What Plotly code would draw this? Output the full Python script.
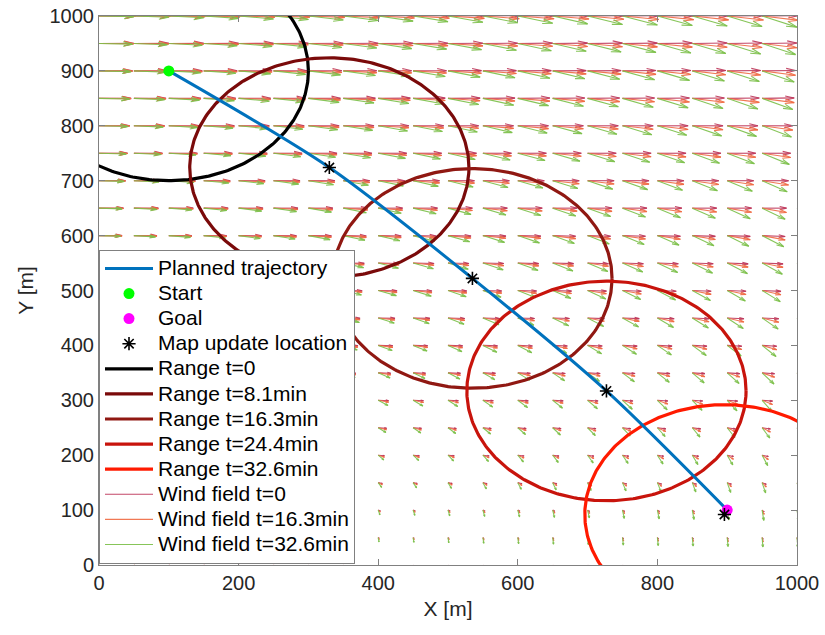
import numpy as np
import plotly.graph_objects as go

# ---------------- data ----------------
grid_x = [0, 50, 100, 150, 200, 250, 300, 350, 400, 450, 500,
          550, 600, 650, 700, 750, 800, 850, 900, 950, 1000]
grid_y = [0, 50, 100, 150, 200, 250, 300, 350, 400, 450, 500,
          550, 600, 650, 700, 750, 800, 850, 900, 950, 1000]

# displayed (scaled) wind components per row (index follows grid_y)
wind_u_t0 = [0.5, 1.5, 3, 6, 9, 12, 15, 18, 21, 24, 27,
             30, 33, 35, 38, 41, 44, 46, 48, 50, 52]
wind_u_t16 = [0.5, 1.5, 3, 6, 9, 12, 15, 18, 21, 24, 27,
              30, 33, 35, 38, 41, 44, 46, 48, 50, 52]
wind_u_t32 = [0.4, 1.2, 2.5, 5, 8, 11, 14, 17, 20, 23, 26,
              29, 31, 33, 36, 39, 42, 44, 46, 48, 50]
wind_v_t0 = [-2, -2, -2, -2, -1.5, -1.5, -1, -1, -1, -1, -1,
             -1, -1, 0, 0, 0, 0, 0.5, 0.5, 0.5, 0.5]
wind_v_t16 = [-5, -5, -5, -5, -5, -5, -5, -5, -5, -5, -5,
              -5, -5, -5, -5, -5, -5, -5, -5, -5, -5]
wind_v_t32 = [-11, -11, -12, -12, -12, -12, -13, -13, -13, -13, -13,
              -13, -13, -13, -13, -13, -13, -13, -13, -13, -13]
# how strongly the cross-wind shows up per column (index follows grid_x)
wind_v_col_gain = [0.10, 0.18, 0.25, 0.33, 0.41, 0.48, 0.56, 0.64, 0.72, 0.79, 0.87,
                   0.95, 1.02, 1.10, 1.18, 1.25, 1.33, 1.41, 1.48, 1.56, 1.64]

wind_names = ["Wind field t=0", "Wind field t=16.3min", "Wind field t=32.6min"]
wind_colors = ["rgba(190,55,90,0.92)", "rgba(240,105,65,0.90)", "rgba(125,192,75,0.92)"]

traj_x = [100, 330, 535, 727, 900]
traj_y = [900, 724, 522, 317, 100]

start_xy = (100, 900)
goal_xy = (900, 100)

update_x = [330, 535, 727, 896]
update_y = [724, 522, 317, 92]

range_cx = [100, 330, 535, 727, 896]
range_cy = [900, 724, 522, 317, 92]
range_r = [200, 200, 200, 200, 200]
range_names = ["Range t=0", "Range t=8.1min", "Range t=16.3min",
               "Range t=24.4min", "Range t=32.6min"]
range_colors = ["#000000", "#7a0a0a", "#901812", "#c8140c", "#ff1a00"]

x_ticks = [0, 200, 400, 600, 800, 1000]
y_ticks = [0, 100, 200, 300, 400, 500, 600, 700, 800, 900, 1000]

FONT = "Liberation Sans, Arial, Helvetica, sans-serif"


def legend_label(s):
    return '<span style="font-size:21px">' + s + '</span>'


fig = go.Figure()

# ---------------- wind field (quiver) ----------------
def quiver_xy(U, V):
    xs, ys = [], []
    a, b = 0.28, 0.30
    for i, y0 in enumerate(grid_y):
        for j, x0 in enumerate(grid_x):
            u = U[i]
            v = V[i] * wind_v_col_gain[j]
            tx, ty = x0 + u, y0 + v
            xs += [x0, tx, None]
            ys += [y0, ty, None]
            h1x = tx - a * (u + b * v)
            h1y = ty - a * (v - b * u)
            h2x = tx - a * (u - b * v)
            h2y = ty - a * (v + b * u)
            xs += [h1x, tx, h2x, None]
            ys += [h1y, ty, h2y, None]
    return xs, ys

wind_sets = [(wind_u_t0, wind_v_t0), (wind_u_t16, wind_v_t16), (wind_u_t32, wind_v_t32)]
for k, (U, V) in enumerate(wind_sets):
    qx, qy = quiver_xy(U, V)
    fig.add_trace(go.Scatter(x=qx, y=qy, mode="lines", name=legend_label(wind_names[k]),
                             line=dict(color=wind_colors[k], width=1.1),
                             legendrank=900 + k, hoverinfo="skip"))

# ---------------- range circles ----------------
theta = np.linspace(0, 2 * np.pi, 361)
for k in range(len(range_cx)):
    cx = range_cx[k] + range_r[k] * np.cos(theta)
    cy = range_cy[k] + range_r[k] * np.sin(theta)
    fig.add_trace(go.Scatter(x=cx, y=cy, mode="lines", name=legend_label(range_names[k]),
                             line=dict(color=range_colors[k], width=3.2),
                             legendrank=500 + k))

# ---------------- trajectory and markers ----------------
fig.add_trace(go.Scatter(x=traj_x, y=traj_y, mode="lines", name=legend_label("Planned trajectory"),
                         line=dict(color="#0072BD", width=3, shape="spline", smoothing=0.8),
                         legendrank=100))
fig.add_trace(go.Scatter(x=[start_xy[0]], y=[start_xy[1]], mode="markers", name=legend_label("Start"),
                         marker=dict(color="#00ff00", size=11, symbol="circle"),
                         legendrank=200))
fig.add_trace(go.Scatter(x=[goal_xy[0]], y=[goal_xy[1]], mode="markers", name=legend_label("Goal"),
                         marker=dict(color="#ff00ff", size=11, symbol="circle"),
                         legendrank=300))
fig.add_trace(go.Scatter(x=update_x, y=update_y, mode="markers",
                         name=legend_label("Map update location"),
                         marker=dict(color="#000000", size=11, symbol="asterisk-open",
                                     line=dict(color="#000000", width=1.6)),
                         legendrank=400))

axis_common = dict(
    showgrid=False, zeroline=False, showline=True, linecolor="#808080", linewidth=1,
    mirror="ticks", ticks="inside", ticklen=6, tickcolor="#808080", automargin=False,
    tickfont=dict(family=FONT, size=20, color="#262626"),
)
fig.update_xaxes(range=[0, 1000], tickvals=x_ticks,
                 title=dict(text="X [m]", font=dict(family=FONT, size=21, color="#262626"), standoff=8),
                 **axis_common)
fig.update_yaxes(range=[0, 1000], tickvals=y_ticks,
                 title=dict(text="Y [m]", font=dict(family=FONT, size=21, color="#262626"), standoff=10),
                 **axis_common)

fig.update_layout(
    width=825, height=635,
    margin=dict(l=99, r=28, t=16, b=70, autoexpand=False),
    paper_bgcolor="white", plot_bgcolor="white",
    font=dict(family=FONT, color="#000000"),
    showlegend=True,
    legend=dict(x=0, y=0.574, xanchor="left", yanchor="top",
                bgcolor="white", bordercolor="#808080", borderwidth=1,
                font=dict(family=FONT, size=17, color="#000000"),
                itemwidth=48, tracegroupgap=0, traceorder="normal"),
)

fig.write_html("out.html")
